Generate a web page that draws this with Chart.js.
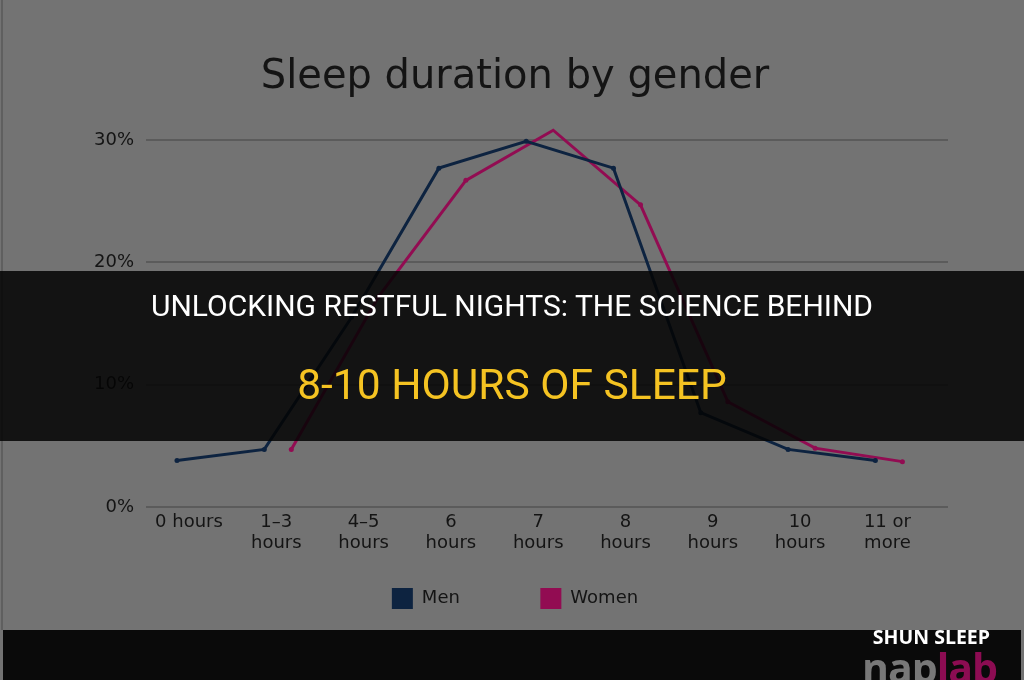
<!DOCTYPE html>
<html>
<head>
<meta charset="utf-8">
<script src="https://cdn.jsdelivr.net/npm/chart.js@4.4.0/dist/chart.umd.min.js"></script>
<style>
  html, body { margin: 0; padding: 0; }
  body { width: 1024px; height: 680px; background: #737373; position: relative; overflow: hidden; }
  #wrap { position: absolute; left: 0; top: 0; width: 1024px; height: 680px; }
  .edge { position: absolute; left: 1px; top: 0; width: 2px; height: 630px; background: #5f5f5f; }
  .banner { position: absolute; left: 0; top: 271px; width: 1024px; height: 170px; background: rgba(4, 4, 4, 0.86); }
  .banner .l1 { position: absolute; left: 0; width: 1024px; text-align: center; color: #ffffff;
    font-family: Roboto, "Liberation Sans", sans-serif; font-size: 30px; line-height: 36px; }
  .banner .l2 { position: absolute; left: 0; width: 1024px; text-align: center; color: #f5c322;
    font-family: Roboto, "Liberation Sans", sans-serif; font-size: 42.5px; line-height: 46px; }
  .strip { position: absolute; left: 3px; top: 630px; width: 1018px; height: 50px; background: #0a0a0a; }
  .brand { position: absolute; right: 34px; top: 623px; color: #ffffff; font-family: "Open Sans", sans-serif;
    font-weight: 700; font-size: 19.5px; line-height: 28px; }
  .logo { position: absolute; left: 862px; top: 639px; font-family: "Open Sans", sans-serif; font-weight: 700;
    font-size: 41px; line-height: 56px; letter-spacing: -1px; color: #787878; }
  .logo span { color: #8c0c52; }
</style>
</head>
<body>
<div id="wrap"><canvas id="myChart" width="1024" height="680"></canvas></div>
<div class="edge"></div>
<div class="banner"><div class="l1" style="top:17px">UNLOCKING RESTFUL NIGHTS: THE SCIENCE BEHIND</div>
<div class="l2" style="top:91px">8-10 HOURS OF SLEEP</div></div>
<div class="strip"></div>
<div class="brand">SHUN SLEEP</div>
<div class="logo">nap<span>lab</span></div>

<script>
"use strict";

const CATEGORIES = ["0 hours", ["1–3", "hours"], ["4–5", "hours"], ["6", "hours"], ["7", "hours"],
    ["8", "hours"], ["9", "hours"], ["10", "hours"], ["11 or", "more"]];
const MEN = [3.8, 4.7, 15.5, 27.7, 29.9, 27.7, 7.7, 4.7, 3.8];
const WOMEN = [null, 4.7, 17.2, 26.7, 30.8, 24.7, 8.6, 4.8, 3.7];
const Y_TICKS = [0, 10, 20, 30];

const MEN_COLOR = "#0d2340";
const WOMEN_COLOR = "#920c52";
const TEXT_COLOR = "#141414";
const FONT = "'DejaVu Sans', Verdana, sans-serif";

document.addEventListener("DOMContentLoaded", init)

function toPoints(values)
{
    return values.map((v, i) => ({x: i, y: v}));
}

function init()
{
    const data = {
        datasets: [{
            label: "Men",
            data: toPoints(MEN),
            xAxisID: "xm",
            borderColor: MEN_COLOR,
            backgroundColor: MEN_COLOR,
            borderWidth: 3,
            pointRadius: 2.5,
            pointBorderWidth: 0,
            tension: 0,
            clip: false
        }, {
            label: "Women",
            data: toPoints(WOMEN),
            xAxisID: "xw",
            borderColor: WOMEN_COLOR,
            backgroundColor: WOMEN_COLOR,
            borderWidth: 3,
            pointRadius: 2.5,
            pointBorderWidth: 0,
            tension: 0,
            clip: false
        }]
    };

    // the two series sit a little left / right of their label in the original, so each gets its own hidden x scale
    const config = {
        type: "line",
        data: data,
        options: {
            responsive: false,
            animation: false,
            layout: {padding: {left: 82, right: 76, top: 0, bottom: 61}},
            plugins: {
                title: {
                    display: true,
                    text: "Sleep duration by gender",
                    color: TEXT_COLOR,
                    font: {family: FONT, size: 40, weight: "normal", lineHeight: 1.2},
                    padding: {top: 54, bottom: 38}
                },
                legend: {
                    position: "bottom",
                    labels: {
                        color: TEXT_COLOR,
                        font: {family: FONT, size: 18},
                        boxWidth: 21,
                        boxHeight: 21,
                        padding: 29,
                        generateLabels: chart => Chart.defaults.plugins.legend.labels.generateLabels(chart).map((item, i) => {
                            item.lineWidth = 0;
                            if (i === 0) item.text = item.text + "         ";
                            return item;
                        })
                    }
                },
                tooltip: {enabled: false}
            },
            scales: {
                x: {
                    type: "linear",
                    position: "bottom",
                    min: -0.4925,
                    max: 8.694,
                    afterBuildTicks: axis => { axis.ticks = CATEGORIES.map((c, i) => ({value: i})); },
                    grid: {display: false, drawTicks: false},
                    border: {display: false},
                    ticks: {
                        color: TEXT_COLOR,
                        font: {family: FONT, size: 18, lineHeight: 1.17},
                        padding: 5,
                        maxRotation: 0,
                        autoSkip: false,
                        callback: v => CATEGORIES[v]
                    }
                },
                xm: {type: "linear", axis: "x", display: false, min: -0.355, max: 8.832},
                xw: {type: "linear", axis: "x", display: false, min: -0.664, max: 8.522},
                y: {
                    min: 0,
                    max: 30,
                    afterBuildTicks: axis => { axis.ticks = Y_TICKS.map(v => ({value: v})); },
                    grid: {color: "#5b5b5b", lineWidth: 2, drawTicks: false},
                    border: {display: false},
                    ticks: {
                        color: TEXT_COLOR,
                        font: {family: FONT, size: 18},
                        padding: 12,
                        callback: v => v + "%"
                    }
                }
            }
        }
    };

    const myChart = new Chart(document.getElementById("myChart"), config);
    console.log(myChart.chartArea)
}
</script>
</body>
</html>
